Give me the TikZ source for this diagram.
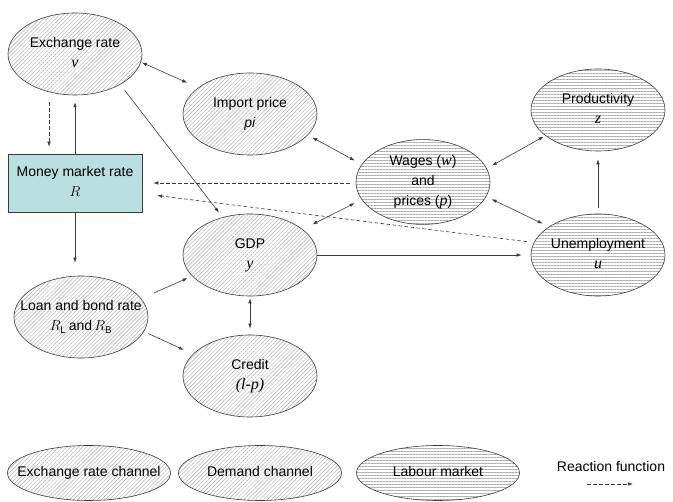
\documentclass[tikz,border=0pt]{standalone}
\usepackage{fontspec}
\setmainfont{Liberation Sans}
\newfontfamily\tmsfont{Liberation Serif}
\usetikzlibrary{shapes.geometric,patterns.meta,arrows.meta}

\definecolor{boxfill}{HTML}{B9DFE0}
\definecolor{edgegray}{HTML}{3A3A3A}

\newcommand\lbl[1]{\makebox[0pt]{\begin{tabular}{@{}c@{}}#1\end{tabular}}}
\newcommand\tv[1]{{\tmsfont\itshape\fontsize{16}{20}\selectfont #1}}

\begin{document}
\begin{tikzpicture}
    [ x=1pt, y=-1pt
    , every node/.style={font=\fontsize{14}{20}\selectfont, inner sep=0pt}
    , oval/.style={ellipse, draw=edgegray, line width=0.6pt, minimum width=134pt, minimum height=82pt}
    , chan/.style={oval, pattern={Lines[angle=45, distance=2.8pt, line width=0.45pt]}, pattern color=gray!65}
    , labour/.style={oval, pattern={Lines[angle=0, distance=3pt, line width=0.45pt]}, pattern color=gray!65}
    , legend/.style={minimum width=163pt, minimum height=55pt}
    , ratebox/.style={rectangle, draw=edgegray, line width=0.6pt, fill=boxfill, minimum width=134pt, minimum height=58pt}
    , arr/.style={draw=edgegray, line width=0.6pt, -{Latex[length=5pt,width=3.5pt]}}
    , biarr/.style={arr, {Latex[length=5pt,width=3.5pt]}-{Latex[length=5pt,width=3.5pt]}}
    , react/.style={arr, dash pattern=on 3.5pt off 2.5pt}
    ]
\useasboundingbox (0,0) rectangle (673,502);

% transmission channels
\node[chan] (exch) at (75,54) {\lbl{Exchange rate\\ \tv{v}}};
\node[chan] (imp) at (250,114) {\lbl{Import price\\ \textit{pi}}};
\node[ratebox] (money) at (75,183) {\lbl{Money market rate\\ $R$}};
\node[chan] (gdp) at (250,255) {\lbl{GDP\\ \tv{y}}};
\node[chan] (loan) at (81,317) {\lbl{Loan and bond rate\\ $R_{\mathrm{L}}$\,and\,$R_{\mathrm{B}}$}};
\node[chan] (credit) at (250,376) {\lbl{Credit\\ \tv{(l-p)}}};

% labour market
\node[labour] (wages) at (423,182) {\lbl{Wages (\tv{w})\\ and\\ prices (\tv{p})}};
\node[labour] (prod) at (598,110) {\lbl{Productivity\\ \tv{z}}};
\node[labour] (unemp) at (598,255) {\lbl{Unemployment\\ \tv{u}}};

\draw[biarr, shorten <=1pt, shorten >=12pt] (exch.-7) -- (imp.153);
\draw[arr, shorten >=7pt] (money.north) -- (exch.south);
\draw[react, shorten <=7pt, shorten >=7pt] ([xshift=-26pt]exch.south) -- ([xshift=-26pt]money.north);
\draw[arr, shorten <=7pt, shorten >=6pt] (exch.-34) -- (gdp.126);
\draw[biarr, shorten <=5pt, shorten >=8pt] (imp.-20) -- (wages.164);
\draw[react, shorten <=6pt, shorten >=11pt] (wages.west |- money.east) -- (money.east);
\draw[react, shorten <=7pt, shorten >=15pt] (unemp.169) -- (money.-9);
\draw[biarr, shorten <=11pt, shorten >=8pt] (gdp.26) -- (wages.196);
\draw[biarr, shorten <=6pt, shorten >=2pt] (wages.12) -- (prod.206);
\draw[biarr, shorten <=6pt, shorten >=7pt] (wages.-13) -- (unemp.150);
\draw[arr, shorten <=6pt, shorten >=8pt] (unemp.north) -- (prod.south);
\draw[arr, shorten >=9pt] (gdp.east) -- (unemp.west);
\draw[arr, shorten >=13pt] (money.south) -- (money.south |- loan.north);
\draw[arr, shorten <=14pt, shorten >=5pt] (loan.17) -- (gdp.200);
\draw[arr, shorten <=5pt, shorten >=10pt] (loan.-13) -- (credit.159);
\draw[biarr, shorten <=2pt, shorten >=6pt] (gdp.south) -- (credit.north);

% legend
\node[chan, legend] (legexch) at (89,473) {\lbl{Exchange rate channel}};
\node[chan, legend] (legdem) at (260,473) {\lbl{Demand channel}};
\node[labour, legend] (leglab) at (438,473) {\lbl{Labour market}};
\node (rf) at (611,466) {Reaction function};
\coordinate (rfa) at (587,484);
\coordinate (rfb) at (633,484);
\draw[react] (rfa) -- (rfb);

\end{tikzpicture}
\end{document}
